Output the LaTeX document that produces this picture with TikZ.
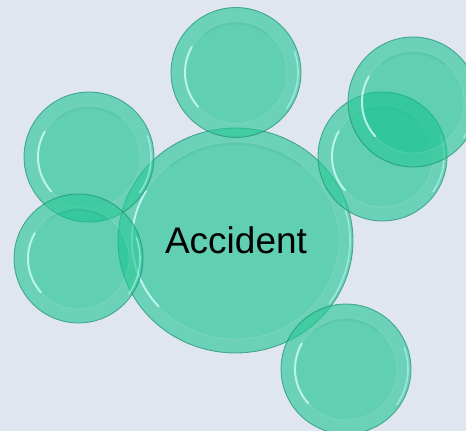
\documentclass[tikz,border=0pt]{standalone}
\usepackage{fontspec}
\setmainfont{Liberation Sans}
\usetikzlibrary{shapes.geometric}
\definecolor{bg}{HTML}{DFE6F0}
\definecolor{tealbase}{HTML}{14C28D}
\definecolor{tealdark}{HTML}{2A967A}
\definecolor{hilite}{HTML}{CFFBFF}
\tikzset{
  bubble/.style={ellipse, inner sep=0pt, outer sep=0pt, fill=tealbase, fill opacity=0.62,
    draw=tealdark, draw opacity=0.8, line width=0.8pt},
  rimfill/.style={fill=white, fill opacity=0.07, even odd rule},
  ringline/.style={draw=white, draw opacity=0.12, line width=0.8pt},
  ringshade/.style={draw=tealdark, draw opacity=0.10, line width=3pt},
  hiline/.style={draw=hilite, draw opacity=0.8, line width=2pt, line cap=round},
  rimline/.style={draw=hilite, draw opacity=0.5, line width=1.6pt, line cap=round},
  label/.style={font=\fontsize{37}{40}\selectfont, text=black, inner sep=0pt}
}
% name, x, y, rx, ry
\newcommand\bubble[5]{%
  \node[bubble, minimum width=#4*2pt, minimum height=#5*2pt] (#1) at (#2,#3) {};
  \path[rimfill] (#1.center) ellipse [x radius=#4-1, y radius=#5-1]
                 (#1.center) ellipse [x radius=#4-14, y radius=#5-14];
  \draw[ringshade] ([shift={(50:{#4-15.5} and {#5-15.5})}]#1.center)
      arc [start angle=50, end angle=130, x radius=#4-15.5, y radius=#5-15.5];
  \draw[ringline] (#1.center) ellipse [x radius=#4-14, y radius=#5-14];
  \draw[hiline] ([shift={(150:{#4-14} and {#5-14})}]#1.center)
      arc [start angle=150, end angle=222, x radius=#4-14, y radius=#5-14];
  \draw[rimline] ([shift={(-35:{#4-3} and {#5-3})}]#1.center)
      arc [start angle=-35, end angle=20, x radius=#4-3, y radius=#5-3];
}
\begin{document}
\begin{tikzpicture}[x=1pt,y=1pt]
  \fill[bg] (0,0) rectangle (466,431);
  \useasboundingbox (0,0) rectangle (466,431);
  \begin{scope}
    \clip (0,0) rectangle (466,431);
    \bubble{center}{235.5}{190.5}{117.5}{112.5}
    \bubble{top}{236}{358.5}{65}{65}
    \bubble{upleft}{89}{274}{65}{65}
    \bubble{lowleft}{78.5}{172.5}{64.5}{64.5}
    \bubble{rightmid}{382.5}{274.5}{64.5}{64.5}
    \bubble{upright}{413}{329}{65}{65}
    \bubble{bottom}{346}{62}{65}{65}
  \end{scope}
  \node[label] (lbl) at (236,191) {Accident};
\end{tikzpicture}
\end{document}
